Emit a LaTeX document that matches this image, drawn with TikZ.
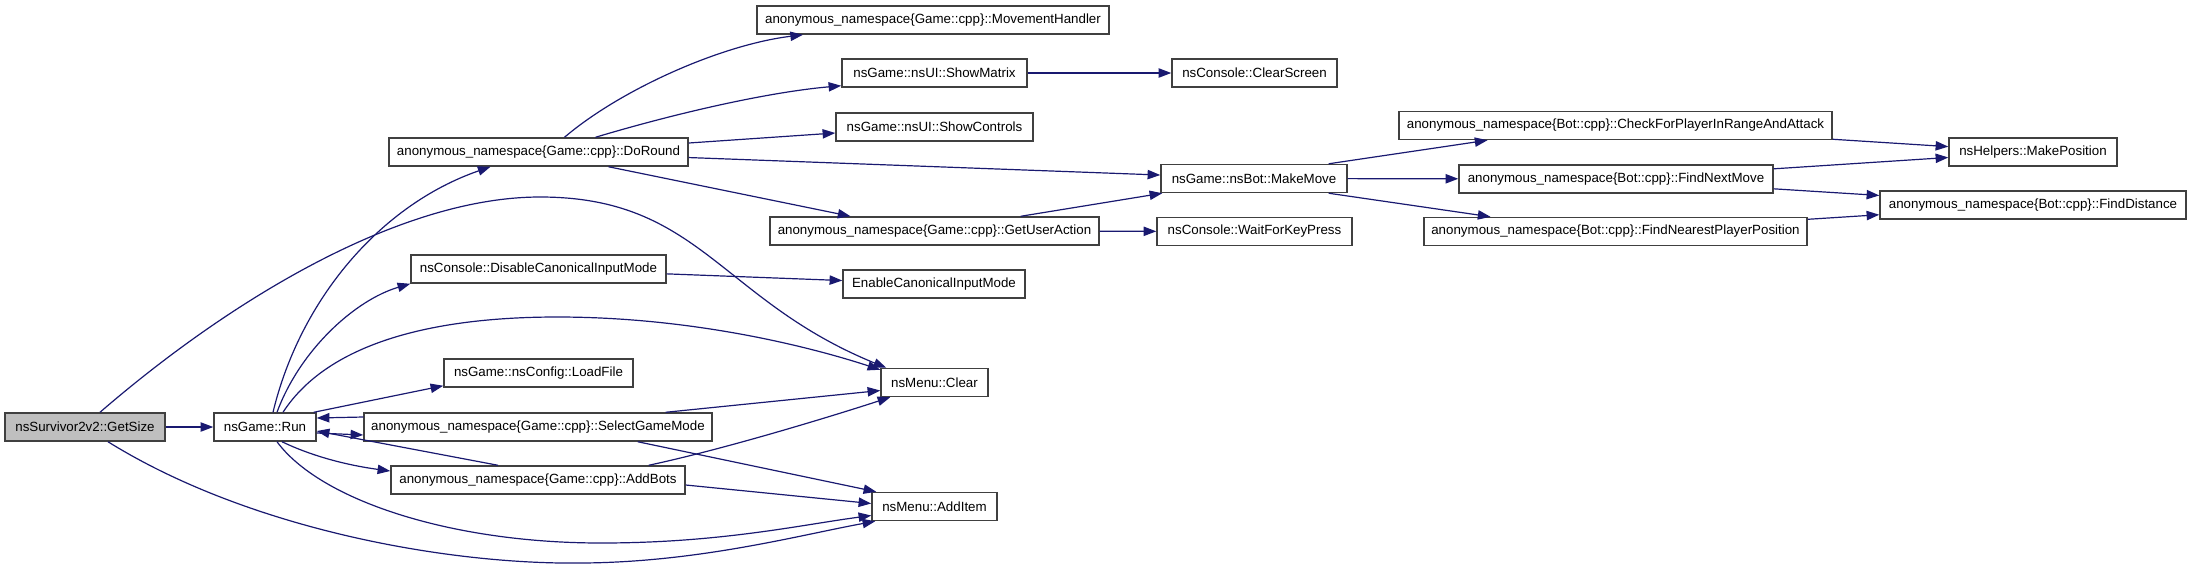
\documentclass[tikz,border=0pt]{standalone}
\usepackage{fontspec}
\setmainfont{Liberation Sans}
\usetikzlibrary{arrows.meta, positioning, calc}
\definecolor{cgEdge}{HTML}{191970}
\definecolor{cgBorder}{HTML}{404040}
\definecolor{cgRoot}{HTML}{BFBFBF}

\begin{document}
\begin{tikzpicture}[x=0.75pt, y=-0.75pt,
    fn/.style={draw=cgBorder, line width=1.1pt, fill=white, minimum height=21pt,
      inner xsep=2pt, inner ysep=0pt, font=\fontsize{10}{12}\selectfont},
    call/.style={draw=cgEdge, line width=0.9pt, -{Triangle[length=9.5pt, width=7pt]}}]
  \useasboundingbox (0,0) rectangle (2192,569);
  \node[fn, fill=cgRoot, minimum width=160*0.75pt] (getsize) at (85,427) {nsSurvivor2v2::GetSize};
  \foreach \nm/\cx/\cy/\w/\txt in {
      run/265/427/102/nsGame::Run,
      doround/538.5/152/299/anonymous\_namespace\{Game::cpp\}::DoRound,
      disable/538.5/269/255/nsConsole::DisableCanonicalInputMode,
      loadfile/538.5/373/189/nsGame::nsConfig::LoadFile,
      selectgamemode/538/427/348/anonymous\_namespace\{Game::cpp\}::SelectGameMode,
      addbots/538/480/294/anonymous\_namespace\{Game::cpp\}::AddBots,
      movementhandler/933/20/352/anonymous\_namespace\{Game::cpp\}::MovementHandler,
      showmatrix/934.5/73/185/nsGame::nsUI::ShowMatrix,
      showcontrols/934.5/127/197/nsGame::nsUI::ShowControls,
      getuseraction/934.5/231/329/anonymous\_namespace\{Game::cpp\}::GetUserAction,
      enable/934/284/182/EnableCanonicalInputMode,
      clear/934.5/382.5/107/nsMenu::Clear,
      additem/934.5/506.5/125/nsMenu::AddItem,
      clearscreen/1254.5/73/165/nsConsole::ClearScreen,
      makemove/1254/178.5/186/nsGame::nsBot::MakeMove,
      waitforkeypress/1254.5/231.5/195/nsConsole::WaitForKeyPress,
      checkforplayer/1615.5/125.5/433/anonymous\_namespace\{Bot::cpp\}::CheckForPlayerInRangeAndAttack,
      findnextmove/1616/179/314/anonymous\_namespace\{Bot::cpp\}::FindNextMove,
      findnearest/1615.5/231.5/383/anonymous\_namespace\{Bot::cpp\}::FindNearestPlayerPosition,
      makeposition/2033/152/168/nsHelpers::MakePosition,
      finddistance/2033/205/306/anonymous\_namespace\{Bot::cpp\}::FindDistance} {
    \node[fn, minimum width=\w*0.75pt] (\nm) at (\cx,\cy) {\txt};
  }

  \draw[call] (getsize) -- (run);
  \draw[call] ($(getsize.north)+(15,0)$) .. controls (230,300) and (400,197) .. (540,197)
    .. controls (700,197) and (720,300) .. ($(clear.north west)+(6,0)$);
  \draw[call] ($(getsize.south)+(23,0)$) .. controls (250,530) and (450,565) .. (583,563)
    .. controls (700,562) and (800,535) .. ($(additem.south west)+(4,0)$);
  \draw[call] ($(run.north)+(8,0)$) .. controls (300,300) and (380,205) .. ($(doround.south)+(-48,0)$);
  \draw[call] ($(run.north)+(12,0)$) .. controls (300,350) and (355,300) .. (disable.south west);
  \draw[call] ($(run.north)+(18,0)$) .. controls (330,340) and (440,317) .. (557,317)
    .. controls (700,317) and (820,350) .. ($(clear.north west)+(0,2)$);
  \draw[call] ($(run.north east)+(-3,0)$) -- ($(loadfile.south west)+(0,-2)$);
  \draw[call] ($(run.east)+(0,6)$) -- ($(selectgamemode.west)+(0,8)$);
  \draw[call] ($(selectgamemode.west)+(0,-10)$) -- ($(run.east)+(0,-9)$);
  \draw[call] ($(addbots.north)+(-40,0)$) -- ($(run.east)+(0,4)$);
  \draw[call] ($(run.south)+(17,0)$) .. controls (320,460) and (360,467) .. ($(addbots.west)+(0,-9)$);
  \draw[call] ($(run.south)+(12,0)$) .. controls (320,500) and (450,543) .. (601,543)
    .. controls (720,543) and (800,525) .. ($(additem.west)+(0,9)$);
  \draw[call] ($(selectgamemode.north east)+(-47,0)$) -- ($(clear.west)+(0,8)$);
  \draw[call] ($(selectgamemode.south east)+(-75,0)$) -- ($(additem.north west)+(5,0)$);
  \draw[call] ($(addbots.north east)+(-37,0)$) .. controls (720,450) and (820,420) .. ($(clear.south west)+(10,0)$);
  \draw[call] ($(addbots.east)+(0,5)$) -- ($(additem.west)+(0,-3)$);
  \draw[call] ($(doround.north)+(26,0)$) .. controls (620,90) and (720,45) .. ($(movementhandler.south)+(-130,0)$);
  \draw[call] ($(doround.north)+(57,0)$) .. controls (680,112) and (770,92) .. ($(showmatrix.south west)+(0,-2)$);
  \draw[call] ($(doround.east)+(0,-9)$) -- ($(showcontrols.west)+(0,6)$);
  \draw[call] (doround) -- (makemove);
  \draw[call] ($(doround.south)+(70,0)$) -- ($(getuseraction.north)+(-84,0)$);
  \draw[call] (showmatrix) -- (clearscreen);
  \draw[call] ($(getuseraction.north east)+(-79,0)$) -- ($(makemove.south west)+(2,0)$);
  \draw[call] (getuseraction) -- (waitforkeypress);
  \draw[call] (disable) -- (enable);
  \draw[call] ($(makemove.north east)+(-19,0)$) -- ($(checkforplayer.south)+(-128,0)$);
  \draw[call] (makemove) -- (findnextmove);
  \draw[call] ($(makemove.south east)+(-19,0)$) -- ($(findnearest.north)+(-125,0)$);
  \draw[call] (checkforplayer) -- (makeposition);
  \draw[call] (findnextmove) -- (makeposition);
  \draw[call] (findnextmove) -- (finddistance);
  \draw[call] (findnearest) -- (finddistance);
\end{tikzpicture}
\end{document}
